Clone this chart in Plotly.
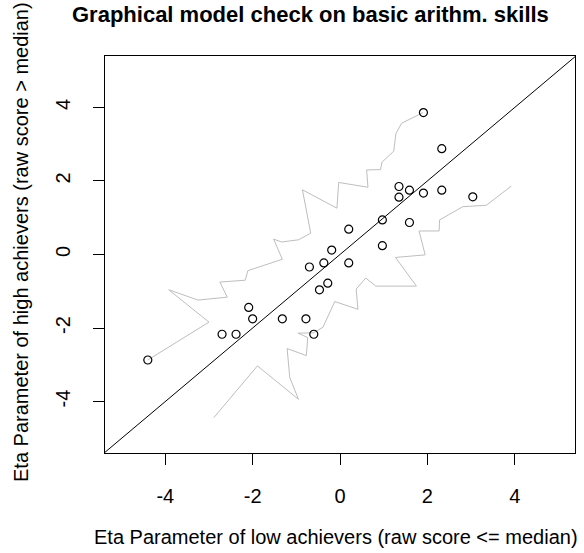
import plotly.graph_objects as go

# Item parameters: low achievers (x) vs high achievers (y)
eta_low = [-4.40, -2.70, -2.38, -2.09, -2.00, -1.32, -0.78, -0.60, -0.70, -0.47,
           -0.28, -0.37, -0.19, 0.20, 0.20, 0.97, 0.97, 1.35, 1.35, 1.59,
           1.59, 1.91, 1.91, 2.33, 2.33, 3.04]
eta_high = [-2.87, -2.17, -2.17, -1.44, -1.75, -1.75, -1.75, -2.17, -0.34, -0.96,
            -0.78, -0.23, 0.12, 0.69, -0.23, 0.94, 0.24, 1.85, 1.56, 1.75,
            0.87, 1.67, 3.86, 2.88, 1.75, 1.57]

# Control lines (upper / lower confidence band)
upper_x = [-4.40, -3.00, -3.92, -3.25, -2.58, -2.75, -2.17, -2.11, -1.32, -1.52,
           -1.34, -0.95, -0.67, -0.86, -0.07, -0.03, 0.64, 0.61, 0.93, 0.96,
           1.23, 1.28, 1.41, 1.90]
upper_y = [-2.87, -1.84, -0.96, -1.24, -1.16, -0.75, -0.70, -0.44, -0.13, 0.42,
           0.34, 0.40, 0.58, 1.76, 1.26, 1.96, 1.83, 2.30, 2.31, 2.51,
           2.81, 3.29, 3.57, 3.86]
lower_x = [-2.89, -1.89, -0.95, -1.15, -1.21, -0.77, -0.74, -0.96, -0.61, -0.39,
           -0.12, 0.41, 0.37, 0.59, 0.82, 1.75, 1.27, 1.95, 1.81, 2.27,
           2.28, 2.81, 3.35, 3.92]
lower_y = [-4.44, -3.03, -3.94, -3.35, -2.56, -2.75, -2.26, -2.14, -2.13, -1.98,
           -1.28, -1.49, -0.94, -0.64, -0.86, -0.86, -0.08, -0.01, 0.64, 0.64,
           0.94, 1.30, 1.34, 1.86]

identity = [-6, 6]
tick_vals = [-4, -2, 0, 2, 4]
tick_text = ["-4", "-2", "0", "2", "4"]
title_text = "Graphical model check on basic arithm. skills"
xlab = "Eta Parameter of low achievers (raw score <= median)"
ylab = "Eta Parameter of high achievers (raw score > median)"

FONT = "Liberation Sans, Arial, sans-serif"
PLOT_L, PLOT_R, PLOT_T, PLOT_B = 105, 575, 56, 453
W, H = 584, 553
pw, ph = PLOT_R - PLOT_L, PLOT_B - PLOT_T

fig = go.Figure()
fig.add_trace(go.Scatter(x=upper_x, y=upper_y, mode="lines",
                         line=dict(color="#bebebe", width=1), hoverinfo="skip"))
fig.add_trace(go.Scatter(x=lower_x, y=lower_y, mode="lines",
                         line=dict(color="#bebebe", width=1), hoverinfo="skip"))
fig.add_trace(go.Scatter(x=identity, y=identity, mode="lines",
                         line=dict(color="black", width=1), hoverinfo="skip"))
fig.add_trace(go.Scatter(x=eta_low, y=eta_high, mode="markers",
                         marker=dict(symbol="circle-open", size=8,
                                     color="black", line=dict(width=1.2))))

axis_common = dict(
    showgrid=False, zeroline=False, showline=True, linecolor="black",
    linewidth=1, mirror=True, ticks="outside", ticklen=11, tickcolor="black",
    tickwidth=1, tickvals=tick_vals, ticktext=tick_text, automargin=False,
    tickfont=dict(family=FONT, size=20, color="black"),
)

fig.update_layout(
    width=W, height=H,
    margin=dict(l=PLOT_L, r=W - PLOT_R, t=PLOT_T, b=H - PLOT_B),
    plot_bgcolor="white", paper_bgcolor="white",
    showlegend=False,
    xaxis=dict(range=[-5.38, 5.38], ticklabelstandoff=14, **axis_common),
    yaxis=dict(range=[-5.4, 5.4], tickangle=-90, ticklabelstandoff=15,
               **axis_common),
    annotations=[
        dict(text="<b>" + title_text + "</b>", x=(70 - PLOT_L) / pw,
             xref="paper", y=1 + (PLOT_T - 14) / ph, yref="paper",
             xanchor="left", yanchor="middle", showarrow=False,
             font=dict(family=FONT, size=22, color="black")),
        dict(text=xlab, x=(336 - PLOT_L) / pw, xref="paper",
             y=-(537 - PLOT_B) / ph, yref="paper", xanchor="center",
             yanchor="middle", showarrow=False,
             font=dict(family=FONT, size=20, color="black")),
        dict(text=ylab, x=(21 - PLOT_L) / pw, xref="paper",
             y=(PLOT_B - 242) / ph, yref="paper", xanchor="center",
             yanchor="middle", textangle=-90, showarrow=False,
             font=dict(family=FONT, size=20, color="black")),
    ],
)

fig.write_html(
    "out.html",
    config={"displayModeBar": False},
    post_script="document.body.style.margin='0';document.body.style.overflow='hidden';",
)
